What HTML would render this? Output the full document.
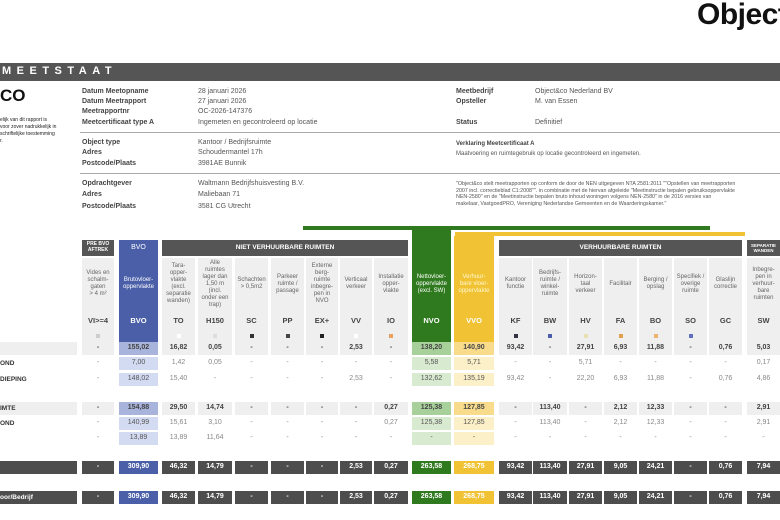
<!DOCTYPE html>
<html><head><meta charset="utf-8"><style>
body{margin:0;width:780px;height:520px;overflow:hidden;background:#fff;font-family:"Liberation Sans",sans-serif;position:relative;color:#333}
.a{position:absolute}
.c{position:absolute;display:flex;align-items:center;justify-content:center;text-align:center;font-size:7px;line-height:1.15}
.t{position:absolute;font-size:7px;white-space:nowrap}
.b{font-weight:bold}
</style></head><body>
<div class="a" style="left:697px;top:-2px;font-size:30px;font-weight:bold;color:#111;letter-spacing:-0.5px">Object</div>
<div class="a" style="left:0;top:63px;width:780px;height:18px;background:#555"></div>
<div class="a" style="left:2px;top:65px;color:#fff;font-size:11px;font-weight:bold;letter-spacing:5.5px">MEETSTAAT</div>
<div class="a" style="left:0;top:86px;font-size:17px;font-weight:bold;color:#111">CO</div>
<div class="t" style="left:0;top:117px;font-size:5px;line-height:7px;color:#222">elijk van dit rapport is<br>voor zover nadrukkelijk in<br>schriftelijke toestemming<br>r.</div>
<div id="root"></div>
<script>
var R=document.getElementById('root'),H='';
function t(x,y,s,st){H+='<div class="t" style="left:'+x+'px;top:'+y+'px;'+(st||'')+'">'+s+'</div>';}
function box(x,y,w,h,bg){H+='<div class="a" style="left:'+x+'px;top:'+y+'px;width:'+w+'px;height:'+h+'px;background:'+bg+'"></div>';}
function c(x,y,w,h,s,st){H+='<div class="c" style="left:'+x+'px;top:'+y+'px;width:'+w+'px;height:'+h+'px;'+(st||'')+'">'+s+'</div>';}
var L='font-weight:bold;color:#444;',V='color:#555;';
t(82,88,'Datum Meetopname',L);t(198,88,'28 januari 2026',V);
t(82,98,'Datum Meetrapport',L);t(198,98,'27 januari 2026',V);
t(82,108,'Meetrapportnr',L);t(198,108,'OC-2026-147376',V);
t(82,119,'Meetcertificaat type A',L);t(198,119,'Ingemeten en gecontroleerd op locatie',V);
box(80,132,700,1,'#aaa');
t(82,139,'Object type',L);t(198,139,'Kantoor / Bedrijfsruimte',V);
t(82,149,'Adres',L);t(198,149,'Schoudermantel 17h',V);
t(82,160,'Postcode/Plaats',L);t(198,160,'3981AE Bunnik',V);
box(80,173,700,1,'#aaa');
t(82,180,'Opdrachtgever',L);t(198,180,'Waltmann Bedrijfshuisvesting B.V.',V);
t(82,191,'Adres',L);t(198,191,'Maliebaan 71',V);
t(82,203,'Postcode/Plaats',L);t(198,203,'3581 CG Utrecht',V);
t(456,88,'Meetbedrijf',L);t(535,88,'Object&amp;co Nederland BV',V);
t(456,98,'Opsteller',L);t(535,98,'M. van Essen',V);
t(456,119,'Status',L);t(535,119,'Definitief',V);
t(456,141,'Verklaring Meetcertificaat A','font-weight:bold;font-size:6px;color:#444');
t(456,151,'Maatvoering en ruimtegebruik op locatie gecontroleerd en ingemeten.','font-size:6px;color:#555');
t(456,181,'"Object&amp;co stelt meetrapporten op conform de door de NEN uitgegeven NTA 2581:2011 ""Opstellen van meetrapporten<br>2007 incl. correctieblad C1:2008"". in combinatie met de hiervan afgeleide "Meetinstructie bepalen gebruiksoppervlakte<br>NEN-2580" en de "Meetinstructie bepalen bruto inhoud woningen volgens NEN-2580" in de 2016 versies van<br>makelaar, VastgoedPRO, Vereniging Nederlandse Gemeenten en de Waarderingskamer."','font-size:5.3px;line-height:6.5px;color:#555');
var X=[[82,32],[119,39],[162,33],[198,34],[235,33],[271,33],[306,32],[340,32],[374,34],[412,39],[454,40],[499,33],[533,34],[569,33],[604,33],[639,33],[674,33],[709,33],[747,33]];
box(303,226,407,4,'#2f7a1f');
box(455,232,290,4,'#f0c234');
box(412,228,39,114,'#2f7a1f');
box(454,236,40,106,'#f0c234');
box(82,240,32,16,'#555');c(82,240,32,16,'PRE BVO<br>AFTREK','color:#fff;font-weight:bold;font-size:5px');
box(119,240,39,102,'#4a5fa8');c(119,240,39,16,'BVO','color:#fff;font-size:7px');
box(162,240,246,16,'#555');c(162,240,246,16,'NIET VERHUURBARE RUIMTEN','color:#fff;font-weight:bold;font-size:6.5px');
box(499,240,243,16,'#555');c(499,240,243,16,'VERHUURBARE RUIMTEN','color:#fff;font-weight:bold;font-size:6.5px');
box(747,240,33,16,'#555');c(747,240,33,16,'SEPARATIE<br>WANDEN','color:#fff;font-weight:bold;font-size:4.5px');
var D=['Vides en<br>schalm-<br>gaten<br>&gt; 4 m²','Brutovloer-<br>oppervlakte','Tara-<br>opper-<br>vlakte<br>(excl.<br>separatie<br>wanden)','Alle<br>ruimtes<br>lager dan<br>1,50 m<br>(incl.<br>onder een<br>trap)','Schachten<br>&gt; 0,5m2','Parkeer<br>ruimte /<br>passage','Externe<br>berg-<br>ruimte<br>inbegre-<br>pen in<br>NVO','Verticaal<br>verkeer','Installatie<br>opper-<br>vlakte','Nettovloer-<br>oppervlakte<br>(excl. SW)','Verhuur-<br>bare vloer-<br>oppervlakte','Kantoor<br>functie','Bedrijfs-<br>ruimte /<br>winkel-<br>ruimte','Horizon-<br>taal<br>verkeer','Facilitair','Berging /<br>opslag','Specifiek /<br>overige<br>ruimte','Glaslijn<br>correctie','Inbegre-<br>pen in<br>verhuur-<br>bare<br>ruimten'];
var C=['VI&gt;=4','BVO','TO','H150','SC','PP','EX+','VV','IO','NVO','VVO','KF','BW','HV','FA','BO','SO','GC','SW'];
var dots=['#ccc','','#fff','#ddd','#333','#444','#222','#fff','#e8a060','','','#334','#4a5fa8','#e8e0b0','#e0a050','#f0b070','#6070c0','',''];
X.forEach(function(p,i){var x=p[0],w=p[1];var bg=(i==1||i==9||i==10)?'':'background:#efefef;';
 var col=(i==1||i==9)?'color:#fff;':(i==10?'color:#fff8d0;':'color:#666;');
 if(bg)box(x,258,w,84,'#efefef');
 c(x,258,w,52,D[i],col+'font-size:6px;line-height:7px');
 c(x,314,w,14,C[i],'font-weight:bold;font-size:7.5px;'+((i==1||i==9||i==10)?'color:#fff':'color:#444'));
 if(dots[i])box(x+w/2-2,334,4,4,dots[i]);
});
var rows=[
[348,'','-','155,02','16,82','0,05','-','-','-','2,53','-','138,20','140,90','93,42','-','27,91','6,93','11,88','-','0,76','5,03',1],
[363,'OND','-','7,00','1,42','0,05','-','-','-','-','-','5,58','5,71','-','-','5,71','-','-','-','-','0,17',0],
[379,'DIEPING','-','148,02','15,40','-','-','-','-','2,53','-','132,62','135,19','93,42','-','22,20','6,93','11,88','-','0,76','4,86',0],
[408,'IMTE','-','154,88','29,50','14,74','-','-','-','-','0,27','125,38','127,85','-','113,40','-','2,12','12,33','-','-','2,91',1],
[423,'OND','-','140,99','15,61','3,10','-','-','-','-','0,27','125,38','127,85','-','113,40','-','2,12','12,33','-','-','2,91',0],
[438,'','-','13,89','13,89','11,64','-','-','-','-','-','-','-','-','-','-','-','-','-','-','-',0],
[467,'','-','309,90','46,32','14,79','-','-','-','2,53','0,27','263,58','268,75','93,42','113,40','27,91','9,05','24,21','-','0,76','7,94',2],
[497,'oor/Bedrijf','-','309,90','46,32','14,79','-','-','-','2,53','0,27','263,58','268,75','93,42','113,40','27,91','9,05','24,21','-','0,76','7,94',2]];
rows.forEach(function(r){var y=r[0]-6,h=13,k=r[21];
 if(k==1)box(0,y,77,h,'#efefef');if(k==2)box(0,y,77,h,'#4d4d4d');
 t(0,y+3,r[1],'font-weight:bold;font-size:6.5px;'+(k==2?'color:#fff':'color:#333'));
 X.forEach(function(p,i){var x=p[0],w=p[1],bg='',fc=k==0?'#888':'#444';
  if(k==1)bg='#efefef';
  if(i==1)bg=k==2?'#4a5fa8':(k==1?'#a9b4dc':'#d3dbf2');
  if(i==9)bg=k==2?'#2f7a1f':(k==1?'#a8d09a':'#d8ead0');
  if(i==10)bg=k==2?'#f0c234':(k==1?'#f8dc8c':'#fcf0c8');
  if(k==2&&i!=1&&i!=9&&i!=10)bg='#4d4d4d';
  if(k==2)fc='#fff';
  if(k==0&&(i==1||i==9||i==10))fc='#555';
  if(bg)box(x,y,w,h,bg);
  c(x,y,w,h,r[i+2],'color:'+fc+';font-size:7px;'+(k>0?'font-weight:bold':''));
 });
});
R.innerHTML=H;
</script>
</body></html>
